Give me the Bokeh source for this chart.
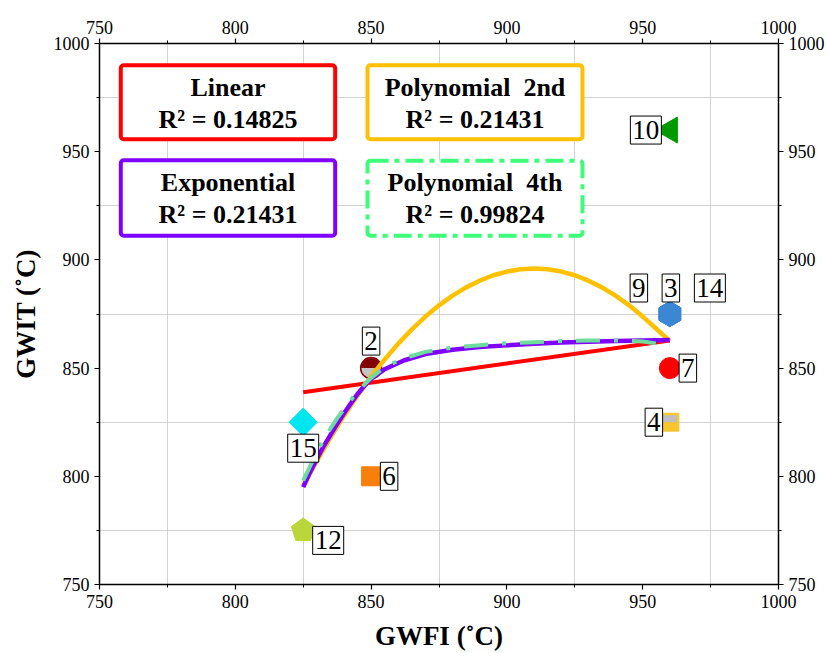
import numpy as np
from bokeh.plotting import figure
from bokeh.models import Range1d, LinearAxis, FixedTicker, BoxAnnotation, Label
from bokeh.embed import file_html
from bokeh.resources import INLINE

# ---------------- data ----------------
sample_ids = ["2", "3", "4", "6", "7", "9", "10", "12", "14", "15"]
gwfi = [850, 960, 960, 850, 960, 960, 960, 825, 960, 825]
gwit = [850, 875, 825, 800, 850, 875, 960, 775, 875, 825]

lin_x = [825, 960]
lin_y = [838.8, 862.8]

poly2_x = [825, 830, 835, 840, 845, 850, 855, 860, 865, 870, 875, 880, 885, 890, 895, 900, 905,
           910, 915, 920, 925, 930, 935, 940, 945, 950, 955, 960]
poly2_y = [795.6, 807.0, 817.8, 827.9, 837.3, 846.0, 854.0, 861.3, 867.9, 873.8, 879.0, 883.5,
           887.3, 890.4, 892.9, 894.6, 895.7, 896.0, 895.7, 894.6, 892.9, 890.4, 887.3, 883.5,
           879.0, 873.8, 868.2, 862.5]

exp_x = [825, 827.5, 830, 832.5, 835, 837.5, 840, 842.5, 845, 847.5, 850, 855, 862, 870, 880,
         890, 900, 910, 920, 930, 940, 950, 960]
exp_y = [795.0, 801.8, 808.0, 813.8, 819.0, 824.2, 829.0, 833.6, 838.0, 841.7, 845.0, 849.5,
         853.5, 856.5, 858.5, 859.7, 860.5, 861.2, 861.8, 862.2, 862.5, 862.8, 863.0]

poly4_x = [825, 827.5, 830, 832.5, 835, 837.5, 840, 842.5, 845, 847.5, 850, 855, 862, 870, 880,
           890, 900, 910, 920, 930, 940, 950, 960]
poly4_y = [798.0, 804.6, 811.0, 816.8, 822.0, 826.8, 831.0, 835.2, 839.0, 842.4, 845.5, 850.5,
           854.5, 857.5, 859.5, 860.6, 861.5, 862.0, 862.5, 862.7, 862.8, 862.3, 860.5]

fit_names = ["Linear", "Polynomial\u00a0 2nd", "Exponential", "Polynomial\u00a0 4th"]
fit_r2 = ["0.14825", "0.21431", "0.21431", "0.99824"]

x_ticks = [750, 800, 850, 900, 950, 1000]
y_ticks = [750, 800, 850, 900, 950, 1000]
minor_ticks = [775, 825, 875, 925, 975]

# ---------------- layout helpers ----------------
W, H = 828, 653
BL, BR, BT, BB = 99, 50, 43, 69
FW, FH = W - BL - BR, H - BT - BB
X0, X1, Y0, Y1 = 750, 1000, 750, 1000


def dx(px):
    return X0 + (px - BL) * (X1 - X0) / FW


def dy(py):
    return Y1 - (py - BT) * (Y1 - Y0) / FH


Y_PER_PX = (Y1 - Y0) / FH

SERIF = "Liberation Serif"

p = figure(width=W, height=H, output_backend="svg", toolbar_location=None,
           x_range=Range1d(X0, X1), y_range=Range1d(Y0, Y1),
           min_border_left=BL, min_border_right=BR, min_border_top=BT, min_border_bottom=BB,
           background_fill_color="white", border_fill_color="white")
p.outline_line_color = None

bottom_axis = p.below[0]
left_axis = p.left[0]
top_axis = LinearAxis()
right_axis = LinearAxis()
p.add_layout(top_axis, "above")
p.add_layout(right_axis, "right")

for ax in [bottom_axis, top_axis]:
    ax.ticker = FixedTicker(ticks=x_ticks, minor_ticks=minor_ticks)
for ax in [left_axis, right_axis]:
    ax.ticker = FixedTicker(ticks=y_ticks, minor_ticks=minor_ticks)

for ax in [bottom_axis, top_axis, left_axis, right_axis]:
    ax.axis_line_color = "black"
    ax.axis_line_width = 1.5
    ax.major_tick_line_color = "black"
    ax.major_tick_line_width = 1.2
    ax.major_tick_out = 5
    ax.major_tick_in = 0
    ax.minor_tick_line_color = "black"
    ax.minor_tick_out = 3
    ax.minor_tick_in = 0
    ax.major_label_text_font = SERIF
    ax.major_label_text_font_size = "18px"
    ax.major_label_text_color = "black"
    ax.major_label_standoff = 5

bottom_axis.axis_label = "GWFI (\u02daC)"
left_axis.axis_label = "GWIT (\u02daC)"
for ax in [bottom_axis, left_axis]:
    ax.axis_label_text_font = SERIF
    ax.axis_label_text_font_style = "bold"
    ax.axis_label_text_font_size = "27px"
    ax.axis_label_text_color = "black"
bottom_axis.axis_label_standoff = 10
left_axis.axis_label_standoff = 10

p.xgrid.ticker = FixedTicker(ticks=minor_ticks)
p.ygrid.ticker = FixedTicker(ticks=minor_ticks)
p.xgrid.grid_line_color = "#d2d2d2"
p.ygrid.grid_line_color = "#d2d2d2"
p.xgrid.grid_line_width = 1
p.ygrid.grid_line_width = 1


# ---------------- markers ----------------
def pts(ids):
    xs = [gwfi[sample_ids.index(i)] for i in ids]
    ys = [gwit[sample_ids.index(i)] for i in ids]
    return xs, ys


# 2: half-filled circle (dark red top, grey bottom)
x2, y2 = pts(["2"])
p.wedge(x=x2, y=y2, radius=10, radius_units="screen", start_angle=0, end_angle=np.pi,
        direction="anticlock", fill_color="#800000", line_color=None)
p.wedge(x=x2, y=y2, radius=10, radius_units="screen", start_angle=np.pi, end_angle=2 * np.pi,
        direction="anticlock", fill_color="#c4c4c4", line_color=None)
p.scatter(x=x2, y=y2, marker="circle", size=21, fill_color=None, line_color="#800000", line_width=1.5)

# 3, 9, 14: hexagon
xh, yh = pts(["9", "14", "3"])
p.scatter(x=xh, y=yh, marker="hex", size=25, angle=np.pi / 2, fill_color="#3b87d6", line_color="#3b87d6")

# 4: half-filled square
x4, y4 = pts(["4"])
p.scatter(x=x4, y=y4, marker="square", size=18, fill_color="#f8c530", line_color="#f8c530")
p.rect(x=x4, y=[v + 3.5 * Y_PER_PX for v in y4], width=14, height=7,
       width_units="screen", height_units="screen", fill_color="#bfbfbf", line_color=None)

# 6: orange square
x6, y6 = pts(["6"])
p.scatter(x=x6, y=y6, marker="square", size=19, fill_color="#f77f0a", line_color="#f77f0a")

# 7: red circle
x7, y7 = pts(["7"])
p.scatter(x=x7, y=y7, marker="circle", size=21, fill_color="#ff0000", line_color="#ff0000")

# 10: left-pointing triangle
x10, y10 = pts(["10"])
p.scatter(x=x10, y=y10, marker="triangle", size=26, angle=np.pi / 2, fill_color="#009a00", line_color="#009a00")

# 12: pentagon
x12, y12 = pts(["12"])
p.ngon(x=x12, y=y12, radius=12.5, radius_units="screen", n=5, angle=0,
       fill_color="#bad63a", line_color="#bad63a")

# 15: diamond
x15, y15 = pts(["15"])
p.scatter(x=x15, y=y15, marker="square", size=20, angle=np.pi / 4, fill_color="#00e6f0", line_color="#00e6f0")

# ---------------- fitted curves ----------------
p.line(lin_x, lin_y, line_color="#ff0000", line_width=4)
p.line(poly2_x, poly2_y, line_color="#ffc000", line_width=4.5)
p.line(exp_x, exp_y, line_color="#8000ff", line_width=4.5)
p.line(poly4_x, poly4_y, line_color="#6ddc9c", line_width=4, line_dash="24 14 4 14")

# ---------------- point labels ----------------
label_offsets = {"2": (0, 27), "3": (1, 26), "9": (-31, 26), "14": (40, 26), "7": (18, 0),
                 "4": (-16, 0), "6": (18, 0), "10": (-24, 0), "12": (25, -10), "15": (0, -26)}
for sid, xv, yv in zip(sample_ids, gwfi, gwit):
    ox, oy = label_offsets[sid]
    p.add_layout(Label(x=xv, y=yv, x_offset=ox, y_offset=oy, text=sid,
                       text_align="center", text_baseline="middle",
                       text_font=SERIF, text_font_size="27px", text_color="black",
                       border_line_color="black", border_line_width=1,
                       background_fill_color="white",
                       padding=dict(left=2, right=2, top=5, bottom=5)))

# ---------------- fit legend boxes ----------------
box_px = [(120.3, 334.7, 64.7, 138.7), (367.0, 582.0, 64.7, 138.7),
          (120.3, 334.7, 159.7, 235.3), (367.0, 582.0, 160.3, 235.3)]
box_colors = ["#ff0000", "#ffc000", "#8000ff", "#3cfc78"]
box_dash = ["solid", "solid", "solid", "18 6 5 6"]
text_base_px = [(86.5, 118.8), (86.5, 118.8), (182.2, 213.8), (182.2, 213.8)]

for (l, r, t, b), col, dsh, (b1, b2), name, r2 in zip(box_px, box_colors, box_dash, text_base_px, fit_names, fit_r2):
    p.add_layout(BoxAnnotation(left=dx(l), right=dx(r), top=dy(t), bottom=dy(b),
                               fill_color="white", fill_alpha=1.0, line_color=col, line_alpha=1.0,
                               line_width=4, line_dash=dsh, border_radius=3, level="annotation"))
    cx = dx((l + r) / 2)
    for txt, bpx in [(name, b1), ("R\u00b2 = " + r2, b2)]:
        p.add_layout(Label(x=cx, y=dy(bpx), text=txt, text_align="center", text_baseline="alphabetic",
                           text_font=SERIF, text_font_style="bold", text_font_size="26px",
                           text_color="black"))

open("out.html", "w").write(file_html(p, INLINE))
